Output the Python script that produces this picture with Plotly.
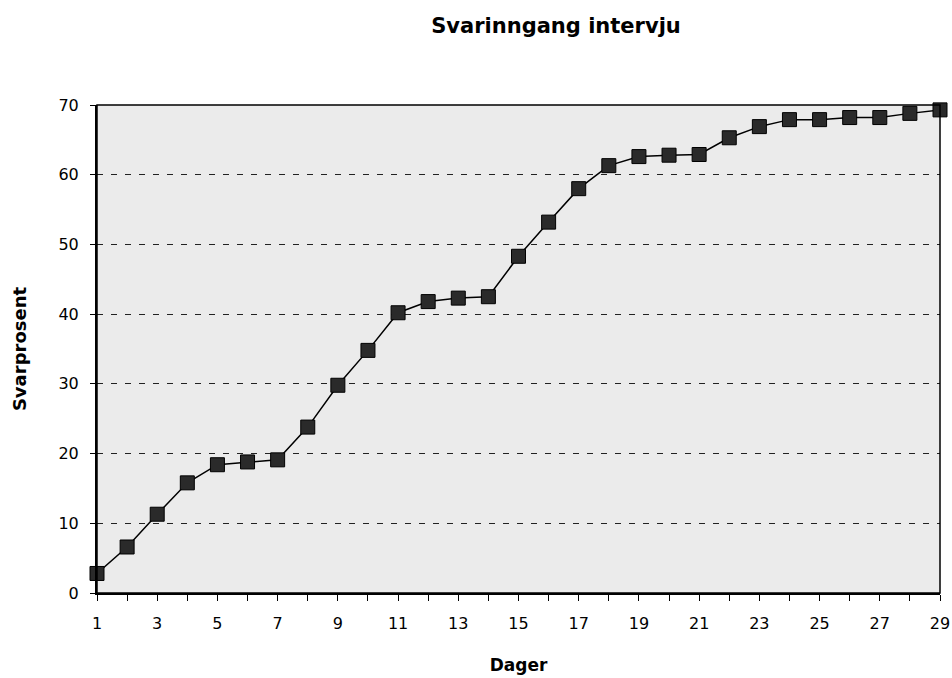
import plotly.graph_objects as go

days = list(range(1, 30))
svarprosent = [2.8, 6.6, 11.3, 15.8, 18.4, 18.8, 19.1, 23.8, 29.8, 34.8,
               40.2, 41.8, 42.3, 42.5, 48.3, 53.2, 58.0, 61.3, 62.6, 62.8,
               62.9, 65.3, 66.9, 67.9, 67.9, 68.2, 68.2, 68.8, 69.3]
x_ticks = list(range(1, 30, 2))
y_ticks = list(range(0, 71, 10))

title = "Svarinngang intervju"
x_title = "Dager"
y_title = "Svarprosent"

font_family = "DejaVu Sans, Liberation Sans, Arial, sans-serif"

W, H = 952, 678

fig = go.Figure()
fig.add_trace(go.Scatter(
    x=days, y=svarprosent, mode="lines+markers",
    line=dict(color="#000000", width=1.5),
    marker=dict(symbol="square", size=14, color="#2a2a2a",
                line=dict(color="#000000", width=1)),
    cliponaxis=False, showlegend=False,
))

fig.update_layout(
    width=W, height=H,
    margin=dict(l=97, r=12, t=105, b=85),
    paper_bgcolor="#ffffff",
    plot_bgcolor="#ebebeb",
    font=dict(family=font_family, size=16, color="#000000"),
    title=dict(text="<b>" + title + "</b>", x=556 / W, xref="container",
               xanchor="center", y=1 - 26 / H, yref="container", yanchor="middle",
               font=dict(size=21, family=font_family)),
    shapes=[dict(type="rect", xref="paper", yref="paper", x0=0, x1=1, y0=0, y1=1,
                 line=dict(color="#000000", width=1.5), layer="above")],
)

fig.update_xaxes(
    range=[1, 29], tickvals=x_ticks, ticktext=[str(v) for v in x_ticks],
    ticks="outside", ticklen=6, tickcolor="#000000", tickwidth=1,
    minor=dict(dtick=1, tick0=0, ticks="outside", ticklen=6, tickcolor="#000000", showgrid=False),
    showgrid=False, showline=True, linecolor="#000000", linewidth=2,
    zeroline=False, ticklabelstandoff=9, automargin=False,
    title=dict(text="<b>" + x_title + "</b>", font=dict(size=17), standoff=27),
)
fig.update_yaxes(
    range=[0, 70], tickvals=y_ticks,
    ticks="outside", ticklen=5, tickcolor="#000000",
    showgrid=True, gridcolor="#222222", griddash="6px,8px", gridwidth=1,
    showline=True, linecolor="#000000", linewidth=2,
    zeroline=False, ticklabelstandoff=8, automargin=False,
    title=dict(text="<b>" + y_title + "</b>", font=dict(size=18), standoff=27),
)

fig.write_html(
    "out.html",
    config={"displayModeBar": False},
    post_script="document.body.style.margin='0';document.body.style.overflow='hidden';",
)
